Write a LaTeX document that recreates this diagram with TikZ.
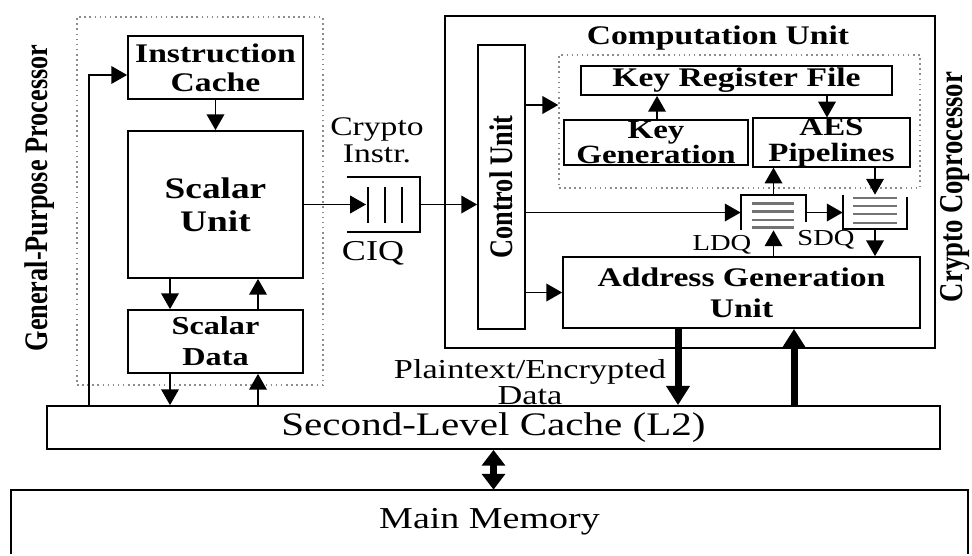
\documentclass[tikz,border=0pt]{standalone}
\usepackage{fontspec}
\setmainfont{Liberation Serif}[FakeStretch=1.25]
\newfontfamily\rotfont{Liberation Serif}[FakeStretch=0.8]
\usetikzlibrary{arrows.meta}
\protected\def\tightlines{\lineskiplimit=-1000pt\relax}

\tikzset{
    box/.style={draw, rectangle, line width=1pt, inner sep=0pt, align=center},
    dotbox/.style={draw=black!45, dotted, line width=0.9pt, rectangle, inner sep=0pt},
    arr/.style={line width=1pt, -{Triangle[length=9pt, width=10pt]}},
    fatarr/.style={line width=4pt, -{Triangle[length=11pt, width=13pt]}},
    dblarr/.style={line width=4pt, {Triangle[length=9pt, width=13pt]}-{Triangle[length=9pt, width=13pt]}},
    qline/.style={black!55, line width=1.6pt},
    sidetxt/.style={rotate=90, font=\rotfont\bfseries\fontsize{18.7}{20}\selectfont}
}

\begin{document}
\begin{tikzpicture}[x=0.02cm, y=-0.02cm]
        \useasboundingbox (0,0) rectangle (972,555);

        % Draw the frames
        \node[dotbox, minimum width=4.92cm, minimum height=7.36cm] (gpp) at (200,201) {};
        \node[box, minimum width=9.8cm, minimum height=6.64cm] (cop) at (690,182) {};
        \node[dotbox, minimum width=7.22cm, minimum height=2.66cm] (comp) at (739.5,121.5) {};
        \node[sidetxt] (gpptxt) at (40,198) {General-Purpose Processor};
        \node[sidetxt, font=\rotfont\bfseries\fontsize{19}{20}\selectfont] (coptxt) at (955,187) {Crypto Coprocessor};

        % Draw the nodes
        \node[box, minimum width=3.5cm, minimum height=1.26cm, font=\bfseries\fontsize{15.3}{16.4}\selectfont] (ic) at (215.5,67.5) {Instruction\\Cache};
        \node[box, minimum width=3.5cm, minimum height=2.94cm, font=\bfseries\fontsize{17}{18.7}\selectfont] (su) at (215.5,204.5) {Scalar\\Unit};
        \node[box, minimum width=3.5cm, minimum height=1.26cm, font=\bfseries\fontsize{14.7}{17.6}\selectfont] (sd) at (215.5,341.5) {Scalar\\Data};
        \node[box, minimum width=17.86cm, minimum height=0.86cm, font=\fontsize{18.7}{20}\selectfont] (l2) at (493.5,427.5) {Second-Level Cache (L2)};
        \node[minimum width=19.14cm, minimum height=1.28cm, inner sep=0pt, font=\fontsize{17.3}{18}\selectfont] (mm) at (489.5,522) {Main Memory};
        \draw[line width=1pt] (mm.south west) |- (mm.north east) -- (mm.south east);

        \node[box, minimum width=0.94cm, minimum height=5.68cm] (cu) at (501.5,187) {};
        \node[sidetxt] (cutxt) at (cu) {Control Unit};
        \node[font=\bfseries\fontsize{15.3}{16}\selectfont] (comptxt) at (718,38) {Computation Unit};
        \node[box, minimum width=6.22cm, minimum height=0.58cm, font=\bfseries\fontsize{15.3}{16}\selectfont] (krf) at (736.5,80.5) {Key Register File};
        \node[box, minimum width=3.68cm, minimum height=0.9cm, font=\bfseries\fontsize{15}{14.4}\selectfont] (kg) at (656,142.5) {Key\\Generation};
        \node[box, minimum width=3.14cm, minimum height=0.9cm, font=\bfseries\fontsize{15}{14.4}\selectfont] (aes) at (831.5,142.5) {AES\\Pipelines};
        \node[box, minimum width=7.14cm, minimum height=1.42cm, font=\bfseries\fontsize{15.3}{17.6}\selectfont] (agu) at (741.5,292.5) {Address Generation\\Unit};

        % Draw the queues
        \node[minimum width=1.46cm, minimum height=1.1cm, inner sep=0pt] (ciq) at (383.5,204.5) {};
        \draw[line width=1pt] (ciq.north west) -- (ciq.north east) -- (ciq.south east) -- (ciq.south west);
        \foreach \x in {368,385,402}
            \draw[line width=1.2pt] (\x,187) -- (\x,223);
        \coordinate (ciqin) at (366,204.5);

        \node[minimum width=1.3cm, minimum height=0.7cm, inner sep=0pt] (ldq) at (773.5,212.5) {};
        \draw[line width=1pt] (ldq.south west) |- (ldq.north east) -- ++(0,27);
        \foreach \y in {203.3,211.7,220,227.7}
            \draw[qline] (752,\y) -- (794,\y);

        \node[minimum width=1.28cm, minimum height=0.68cm, inner sep=0pt] (sdq) at (875,212) {};
        \draw[line width=1pt] (sdq.north west) |- (sdq.south east) -- ++(0,-32);
        \foreach \y in {198,206,214,223}
            \draw[qline] (853,\y) -- (897,\y);

        % Draw the labels
        \node[font=\fontsize{15.3}{15.3}\selectfont, align=center] (citxt) at (377,140) {Crypto\\Instr.};
        \node[font=\fontsize{16.4}{17}\selectfont] (ciqtxt) at (373,253) {CIQ};
        \node[font=\fontsize{13}{14}\selectfont] (ldqtxt) at (722,245) {LDQ};
        \node[font=\fontsize{13}{14}\selectfont] (sdqtxt) at (826,240) {SDQ};
        \node[font=\fontsize{15.6}{14.4}\selectfont\tightlines, align=center] (pdtxt) at (530,382) {Plaintext/Encrypted\\Data};

        % Draw the arrows
        \coordinate (fb) at (89,75);
        \draw[arr] (l2.north -| fb) |- (ic.west |- fb);
        \draw[arr] (ic) -- (su);
        \draw[arr] (su.south -| 170,0) -- (sd.north -| 170,0);
        \draw[arr] (sd.north -| 258,0) -- (su.south -| 258,0);
        \draw[arr] (sd.south -| 170,0) -- (l2.north -| 170,0);
        \draw[arr] (l2.north -| 258,0) -- (sd.south -| 258,0);
        \draw[arr] (su.east) -- (su.east -| ciqin);
        \draw[arr] (ciq.east) -- (ciq.east -| cu.west);
        \draw[arr] (cu.east |- 0,105) -- (comp.west |- 0,105);
        \draw[arr] (cu.east |- ldq.west) -- (ldq.west);
        \draw[arr] (cu.east |- agu.west) -- (agu.west);
        \draw[arr] (kg.north -| 657,0) -- (krf.south -| 657,0);
        \draw[arr] (krf.south -| 827,0) -- (aes.north -| 827,0);
        \draw[arr] (ldq.north) -- (ldq.north |- aes.south);
        \draw[arr] (aes.south -| sdq.north) -- (sdq.north);
        \draw[arr] (ldq.east) -- (ldq.east -| sdq.west);
        \draw[arr] (sdq.south) -- (sdq.south |- agu.north);
        \draw[arr] (agu.north -| ldq.south) -- (ldq.south);
        \draw[fatarr] (agu.south -| 678,0) -- (l2.north -| 678,0);
        \draw[fatarr] (l2.north -| 794,0) -- (agu.south -| 794,0);
        \draw[dblarr] (l2.south) -- (l2.south |- mm.north);
    \end{tikzpicture}
\end{document}
